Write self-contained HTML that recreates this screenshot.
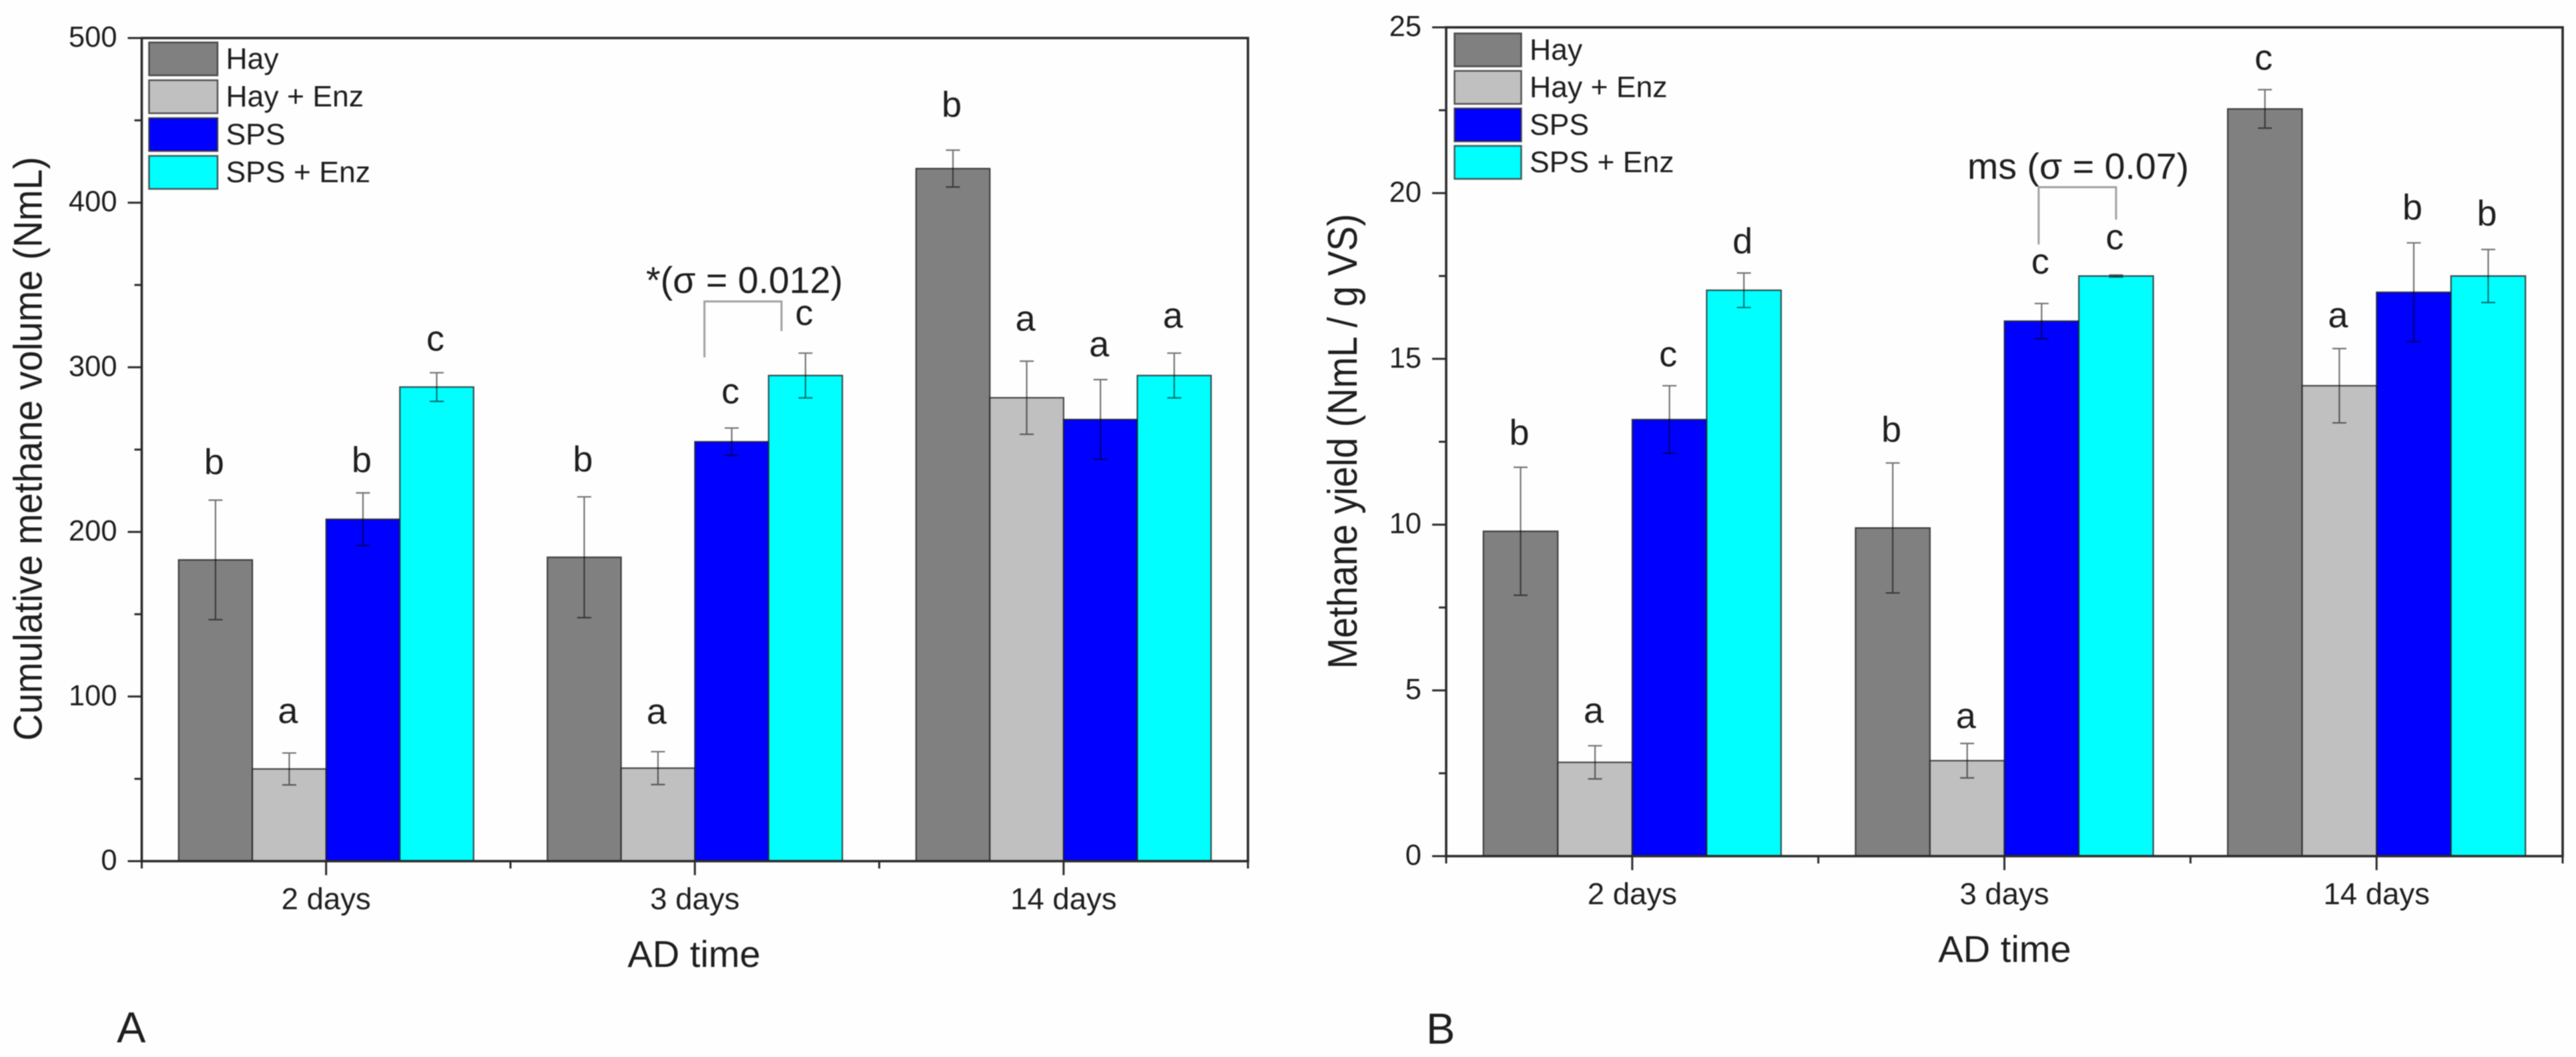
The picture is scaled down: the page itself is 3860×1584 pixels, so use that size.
<!DOCTYPE html>
<html lang="en">
<head>
<meta charset="utf-8">
<title>Cumulative methane volume and methane yield</title>
<style>
html,body{margin:0;padding:0;background:#fefefe;}
svg{display:block;filter:blur(0.7px);}
text{font-family:"Liberation Sans",sans-serif;fill:#1e1e1e;}
.s0{fill:#808080;}
.s1{fill:#c0c0c0;}
.s2{fill:#0000ff;}
.s3{fill:#00ffff;}
.bar{stroke:#202020;stroke-width:2.2;stroke-opacity:.8;}
.swatch{stroke:#303030;stroke-width:2.5;stroke-opacity:.8;}
.err{stroke:#000;stroke-opacity:.55;stroke-width:2.2;fill:none;}
.axis{stroke:#2a2a2a;stroke-width:3.6;fill:none;}
.tick{stroke:#2a2a2a;stroke-width:3;fill:none;}
.bracket{stroke:#a0a0a0;stroke-width:3;fill:none;}
</style>
</head>
<body>
<svg id="figure" xmlns="http://www.w3.org/2000/svg" width="3860" height="1584" viewBox="0 0 3860 1584">
  <rect x="0" y="0" width="3860" height="1584" fill="#fefefe"/>
  <g id="chart-a">
    <text transform="translate(62.5,1110) rotate(-90)" font-size="60" textLength="875" lengthAdjust="spacingAndGlyphs">Cumulative methane volume (NmL)</text>
    <text x="1040" y="1449" font-size="56" text-anchor="middle">AD time</text>
    <text x="968" y="439" font-size="56" textLength="295" lengthAdjust="spacingAndGlyphs">*(σ = 0.012)</text>
    <text x="175" y="1562" font-size="65">A</text>
  </g>
  <g id="chart-b">
    <text transform="translate(2033,1002.5) rotate(-90)" font-size="62" textLength="682" lengthAdjust="spacingAndGlyphs">Methane yield (NmL / g VS)</text>
    <text x="3004" y="1441.5" font-size="56" text-anchor="middle">AD time</text>
    <text x="2948" y="268" font-size="55" textLength="332" lengthAdjust="spacingAndGlyphs">ms (σ = 0.07)</text>
    <text x="2137" y="1564" font-size="65">B</text>
  </g>
</svg>
<script>
const categories = ['2 days', '3 days', '14 days'];
const seriesNames = ['Hay', 'Hay + Enz', 'SPS', 'SPS + Enz'];

const yTicksA = [0, 100, 200, 300, 400, 500];
const hayA = [183, 184.6, 420.7];
const hayEnzA = [56, 56.5, 281.5];
const spsA = [207.7, 254.8, 268.3];
const spsEnzA = [288, 295, 295];
const hayErrA = [36.3, 36.7, 11.2];
const hayEnzErrA = [9.7, 10, 22.2];
const spsErrA = [16, 8.3, 24.2];
const spsEnzErrA = [8.7, 13.6, 13.6];
const hayLettersA = ['b', 'b', 'b'];
const hayEnzLettersA = ['a', 'a', 'a'];
const spsLettersA = ['b', 'c', 'a'];
const spsEnzLettersA = ['c', 'c', 'a'];
const hayGapA = [15.8, 15.4, 20.3];
const hayEnzGapA = [18.2, 17, 18.6];
const spsGapA = [12.6, 15, 14.2];
const spsEnzGapA = [13.4, 17, 15.4];
const bracketCatA = [1.526, 1.735];
const bracketLevelsA = [306, 340, 322];

const yTicksB = [0, 5, 10, 15, 20, 25];
const hayB = [9.8, 9.9, 22.54];
const hayEnzB = [2.83, 2.88, 14.19];
const spsB = [13.17, 16.14, 17.01];
const spsEnzB = [17.07, 17.5, 17.5];
const hayErrB = [1.93, 1.96, 0.58];
const hayEnzErrB = [0.5, 0.52, 1.12];
const spsErrB = [1.02, 0.53, 1.49];
const spsEnzErrB = [0.52, 0.03, 0.8];
const hayLettersB = ['b', 'b', 'c'];
const hayEnzLettersB = ['a', 'a', 'a'];
const spsLettersB = ['c', 'c', 'b'];
const spsEnzLettersB = ['d', 'c', 'b'];
const hayGapB = [0.68, 0.64, 0.6];
const hayEnzGapB = [0.7, 0.46, 0.64];
const spsGapB = [0.58, 0.9, 0.7];
const spsEnzGapB = [0.6, 0.78, 0.72];
const bracketCatB = [1.592, 1.8];
const bracketLevelsB = [18.45, 20.18, 19.2];

const SVG_NS = 'http://www.w3.org/2000/svg';

function svgEl(parent, tag, attrs) {
  const el = document.createElementNS(SVG_NS, tag);
  for (const k in attrs) el.setAttribute(k, attrs[k]);
  parent.appendChild(el);
  return el;
}

function placedText(parent, x, y, str, size, anchor) {
  const t = svgEl(parent, 'text', {
    x: x,
    y: y,
    'font-size': size,
    'text-anchor': anchor
  });
  t.textContent = str;
  return t;
}

function drawChart(root, box, legendBox, yTicks, values, errors, letters, gaps, bracketCat, bracketLevels) {
  const yMax = yTicks[yTicks.length - 1];
  const band = (box.right - box.left) / categories.length;
  const barW = band * 0.2;
  const xAt = c => box.left + c * band;
  const xCat = i => xAt(i + 0.5);
  const y = v => box.bottom - v / yMax * (box.bottom - box.top);

  // bars
  values.forEach((vals, s) => {
    vals.forEach((v, i) => {
      const r = svgEl(root, 'rect', {
        x: xCat(i) + (s - 2) * barW,
        y: y(v),
        width: barW,
        height: y(0) - y(v),
        class: 'bar s' + s
      });
      
      
    });
  });

  // error bars and significance letters
  values.forEach((vals, s) => {
    vals.forEach((v, i) => {
      const cx = xCat(i) + (s - 1.5) * barW;
      const hi = y(v + errors[s][i]);
      const lo = y(v - errors[s][i]);
      const e = svgEl(root, 'path', {
        d: 'M' + (cx - 10.5) + ' ' + hi + 'H' + (cx + 10.5) + 'M' + cx + ' ' + hi + 'V' + lo + 'M' + (cx - 10.5) + ' ' + lo + 'H' + (cx + 10.5),
        class: 'err'
      });
      
      
      const l = placedText(root, cx - 2, y(v + errors[s][i] + gaps[s][i]), letters[s][i], 54, 'middle');
      
      
    });
  });

  // frame
  const frame = svgEl(root, 'rect', {
    x: box.left,
    y: box.top,
    width: box.right - box.left,
    height: box.bottom - box.top,
    class: 'axis'
  });
  
  

  // y ticks
  yTicks.forEach((t, i) => {
    const major = svgEl(root, 'path', {
      d: 'M' + (box.left - 21) + ' ' + y(t) + 'H' + box.left,
      class: 'tick'
    });
    
    
    const lab = placedText(root, box.left - 37, y(t) + 13, String(t), 43.5, 'end');
    
    
    if (i < yTicks.length - 1) {
      const my = y((t + yTicks[i + 1]) / 2);
      const minor = svgEl(root, 'path', {
        d: 'M' + (box.left - 11) + ' ' + my + 'H' + box.left,
        class: 'tick'
      });
      
      
    }
  });

  // x ticks
  categories.forEach((c, i) => {
    const major = svgEl(root, 'path', {
      d: 'M' + xCat(i) + ' ' + box.bottom + 'V' + (box.bottom + 21),
      class: 'tick'
    });
    
    
    const lab = placedText(root, xCat(i), box.bottom + 72, c, 45.5, 'middle');
    
    
  });
  for (let i = 0; i <= categories.length; i++) {
    const minor = svgEl(root, 'path', {
      d: 'M' + xAt(i) + ' ' + box.bottom + 'V' + (box.bottom + 11),
      class: 'tick'
    });
    
    
  }

  // significance bracket
  const br = svgEl(root, 'path', {
    d: 'M' + xAt(bracketCat[0]) + ' ' + y(bracketLevels[0]) + 'V' + y(bracketLevels[1]) + 'H' + xAt(bracketCat[1]) + 'V' + y(bracketLevels[2]),
    class: 'bracket'
  });
  
  

  // legend
  seriesNames.forEach((name, s) => {
    const top = legendBox.top + s * legendBox.step;
    const sw = svgEl(root, 'rect', {
      x: legendBox.left,
      y: top,
      width: legendBox.w,
      height: legendBox.h,
      class: 'swatch s' + s
    });
    
    
    const t = placedText(root, legendBox.left + legendBox.w + 12.5, top + 39.5, name, 44.5, 'start');
    
    
  });
}

drawChart(
  document.getElementById('chart-a'),
  {left: 212.4, right: 1870, top: 57, bottom: 1290.5},
  {left: 223.3, top: 63.5, step: 56.7, w: 102.7, h: 49.5},
  yTicksA,
  [hayA, hayEnzA, spsA, spsEnzA],
  [hayErrA, hayEnzErrA, spsErrA, spsEnzErrA],
  [hayLettersA, hayEnzLettersA, spsLettersA, spsEnzLettersA],
  [hayGapA, hayEnzGapA, spsGapA, spsEnzGapA],
  bracketCatA,
  bracketLevelsA
);

drawChart(
  document.getElementById('chart-b'),
  {left: 2167, right: 3840, top: 41, bottom: 1283},
  {left: 2179.5, top: 50, step: 56.2, w: 100, h: 49.5},
  yTicksB,
  [hayB, hayEnzB, spsB, spsEnzB],
  [hayErrB, hayEnzErrB, spsErrB, spsEnzErrB],
  [hayLettersB, hayEnzLettersB, spsLettersB, spsEnzLettersB],
  [hayGapB, hayEnzGapB, spsGapB, spsEnzGapB],
  bracketCatB,
  bracketLevelsB
);
</script>
</body>
</html>
